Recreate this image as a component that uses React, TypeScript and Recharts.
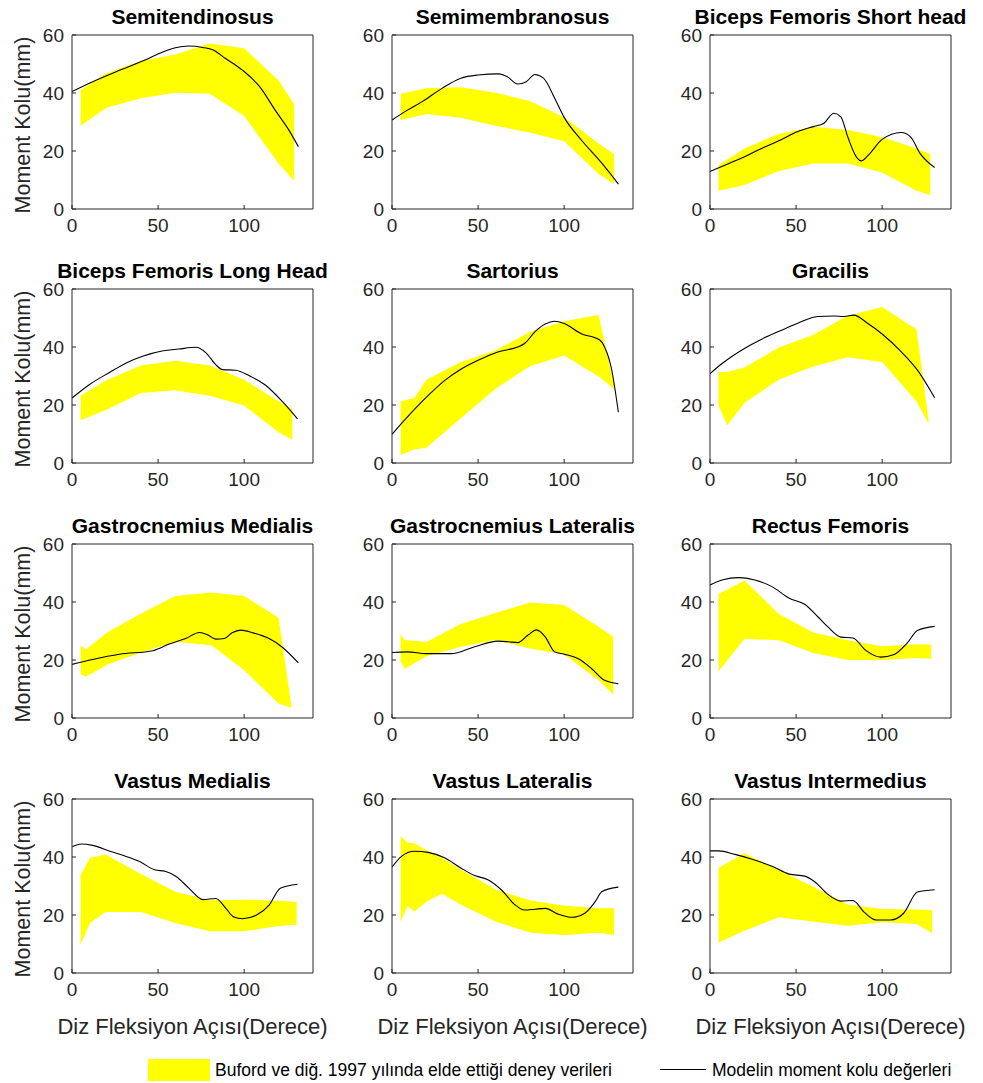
import { ComposedChart, Area, Line, XAxis, YAxis } from "recharts";

const FONT = '"Liberation Sans", Arial, Helvetica, sans-serif';
const AXIS = "#262626";
const YELLOW = "#ffff00";

// [angle, low, high] – Buford et al. 1997 band
const semitendinosusBand = [
  [5, 28.7, 41.0], [20, 34.9, 46.8], [40, 38.2, 51.0], [60, 40.1, 53.3],
  [80, 39.7, 57.1], [100, 32.1, 55.4], [120, 15.7, 44.3], [129, 9.7, 36.2],
];
// [angle, moment arm] – model
const semitendinosusModel = [
  [0, 40.5], [12, 43.9], [28, 47.9], [41, 51.0], [51, 53.7], [60, 55.6], [68, 56.2],
  [76, 55.7], [82, 54.8], [89, 52.0], [99, 47.9], [109, 42.2], [118, 34.1], [126, 27.2], [131.5, 21.5],
];

const semimembranosusBand = [
  [5, 30.7, 39.7], [20, 32.8, 41.6], [40, 31.5, 42.0], [60, 28.7, 40.1],
  [80, 26.4, 37.2], [100, 23.4, 31.6], [120, 12.1, 22.6], [129, 8.6, 19.0],
];
const semimembranosusModel = [
  [0, 30.7], [9, 34.1], [18, 37.2], [29, 41.6], [40, 45.1], [50, 46.2], [62, 46.6], [67, 45.6],
  [73, 43.1], [78, 43.9], [83, 46.4], [88, 45.1], [95, 37.6], [100, 31.6], [110, 23.8], [122, 15.7], [131.5, 8.6],
];

const bicepsShortBand = [
  [5, 6.3, 15.2], [20, 8.3, 20.9], [40, 13.1, 25.9], [60, 15.7, 28.4],
  [80, 15.7, 27.2], [100, 12.6, 24.7], [120, 6.3, 20.9], [128, 4.8, 19.0],
];
const bicepsShortModel = [
  [0, 12.9], [11, 15.7], [20, 18.0], [30, 20.9], [41, 23.8], [51, 26.7], [60, 28.4], [66, 29.5],
  [72, 33.0], [76, 31.8], [80, 24.9], [85, 18.0], [88, 16.6], [92, 18.6], [100, 24.0], [111, 26.4],
  [116.5, 24.9], [122, 19.2], [130.5, 14.3],
];

const bicepsLongBand = [
  [5, 14.7, 23.2], [20, 18.4, 28.5], [40, 24.1, 33.6], [60, 25.1, 35.3],
  [80, 23.2, 33.6], [100, 19.8, 28.7], [120, 10.6, 21.3], [128, 8.0, 18.6],
];
const bicepsLongModel = [
  [0, 22.4], [10, 27.0], [22, 31.3], [31.5, 34.5], [41, 36.8], [53, 38.7], [62, 39.3], [72, 39.9],
  [78, 37.9], [83.5, 33.9], [87.5, 32.2], [95, 32.0], [103, 30.1], [112.5, 26.8], [122, 21.3], [131, 15.2],
];

const sartoriusBand = [
  [5, 2.8, 21.2], [13, 4.7, 22.4], [20, 5.3, 28.7], [40, 15.4, 34.8], [60, 25.5, 38.8],
  [80, 33.4, 45.2], [100, 37.1, 48.9], [120, 29.8, 51.0], [129, 25.5, 27.0],
];
const sartoriusModel = [
  [0, 9.9], [7, 14.6], [20, 22.7], [30.5, 28.4], [40, 32.3], [50, 35.4], [61.5, 38.3], [73, 40.0],
  [77, 41.2], [83, 45.2], [89, 47.9], [94.5, 48.9], [100, 48.1], [110, 44.6], [120.5, 42.5],
  [123.5, 40.0], [127.5, 32.5], [131.5, 17.5],
];

const gracilisBand = [
  [5, 19.7, 31.4], [10, 13.0, 31.4], [20, 20.7, 32.9], [40, 28.8, 39.8], [60, 33.3, 44.2],
  [80, 36.5, 50.8], [100, 34.8, 53.8], [120, 21.2, 46.0], [127, 13.5, 14.5],
];
const gracilisModel = [
  [0, 30.8], [7, 34.3], [20, 39.5], [30, 42.7], [40.5, 45.5], [51, 48.2], [62.5, 50.5], [72, 50.7],
  [78, 50.5], [83.5, 51.0], [91.5, 48.2], [100, 44.5], [111, 38.4], [120.5, 32.0], [130.5, 22.5],
];

const gastroMedBand = [
  [5, 15.1, 25.1], [8, 14.2, 23.6], [21, 18.5, 29.7], [41, 22.8, 36.3], [60, 26.3, 42.1],
  [81, 25.1, 43.3], [100, 16.5, 42.1], [120, 5.0, 34.6], [127.5, 3.5, 4.0],
];
const gastroMedModel = [
  [0, 18.5], [12, 20.2], [27.5, 22.0], [47, 23.2], [56.5, 25.5], [66, 27.4], [74, 29.5], [79, 28.6],
  [83.5, 27.2], [88.5, 27.4], [93, 29.4], [98, 30.3], [105, 29.4], [114.5, 27.4], [122, 24.5], [131.5, 19.0],
];

const gastroLatBand = [
  [5, 19.4, 29.0], [7.5, 17.0, 26.9], [20, 21.3, 26.2], [40, 24.6, 32.4], [60, 26.9, 36.2],
  [80, 24.0, 39.8], [100, 22.0, 39.0], [120, 13.0, 31.5], [128.5, 8.1, 28.0],
];
const gastroLatModel = [
  [0, 22.6], [9, 22.8], [20, 22.2], [34.5, 22.2], [48, 24.6], [61.5, 26.5], [67.5, 26.3], [73, 26.0],
  [79, 28.6], [84, 30.4], [89, 28.0], [94.5, 22.8], [100, 22.0], [108, 20.5], [116, 17.0], [123.5, 13.0], [131.5, 11.8],
];

const rectusBand = [
  [5, 16.1, 42.8], [20, 27.3, 47.4], [40, 26.8, 35.9], [60, 22.4, 29.5],
  [80, 20.0, 26.8], [100, 20.0, 24.7], [120, 20.7, 25.4], [128.5, 20.4, 25.3],
];
const rectusModel = [
  [0, 45.9], [7, 47.6], [16.5, 48.4], [26, 47.6], [36, 45.3], [46, 41.3], [55, 39.2], [62.5, 35.0],
  [68.5, 31.4], [76, 27.9], [83, 27.6], [90.5, 23.3], [99, 21.0], [107, 21.9], [114.5, 25.8], [120.5, 30.2], [130.5, 31.6],
];

const vastusMedBand = [
  [5, 9.8, 33.8], [10.5, 17.2, 39.7], [19.5, 21.0, 40.9], [40, 21.0, 34.1], [60, 17.2, 28.0],
  [80, 14.4, 25.1], [100, 14.4, 25.3], [120, 16.2, 24.9], [130.5, 16.6, 24.5],
];
const vastusMedModel = [
  [0, 43.5], [5.5, 44.5], [12, 44.0], [22, 42.0], [31.5, 40.2], [39, 38.5], [48, 35.6], [54.5, 35.0],
  [60.5, 33.3], [68, 29.2], [76, 25.3], [83.5, 25.7], [89.5, 22.2], [94, 19.3], [99, 18.7], [107, 19.9],
  [114.5, 23.4], [121, 29.2], [131, 30.6],
];

const vastusLatBand = [
  [5, 17.7, 47.2], [9, 23.1, 44.9], [13, 21.2, 44.7], [20, 24.6, 42.3], [29, 27.3, 39.7], [40, 23.5, 35.6],
  [60.5, 17.7, 28.7], [80.5, 13.9, 25.0], [100.5, 13.1, 23.2], [120.5, 13.9, 22.3], [129, 13.1, 22.3],
];
const vastusLatModel = [
  [0, 36.5], [5.5, 40.2], [13, 42.0], [21, 41.6], [30.5, 39.7], [40, 36.2], [48, 33.6], [56, 32.1],
  [63.5, 28.7], [71.5, 23.5], [77, 21.7], [83, 22.0], [89, 22.3], [96.5, 20.3], [104.5, 19.2], [112, 20.6],
  [118, 24.6], [122, 28.1], [131.5, 29.6],
];

const vastusIntBand = [
  [5, 10.5, 36.3], [20, 14.6, 41.3], [40, 19.2, 35.5], [60, 17.8, 29.7],
  [80, 16.3, 23.6], [100, 17.5, 22.1], [120, 16.9, 21.9], [129, 13.7, 21.6],
];
const vastusIntModel = [
  [0, 42.1], [5, 42.1], [14.5, 40.9], [24, 39.3], [36, 36.8], [46, 34.1], [55, 33.4], [61, 31.4],
  [68.5, 27.1], [76, 24.8], [83, 25.0], [89.5, 21.0], [96.5, 18.3], [105, 18.3], [112.5, 20.6], [120.5, 27.9], [130.5, 28.7],
];

const xTicks = [0, 50, 100];
const yTicks = [0, 20, 40, 60];

const panels = [
  { title: "Semitendinosus", band: semitendinosusBand, model: semitendinosusModel },
  { title: "Semimembranosus", band: semimembranosusBand, model: semimembranosusModel },
  { title: "Biceps Femoris Short head", band: bicepsShortBand, model: bicepsShortModel },
  { title: "Biceps Femoris Long Head", band: bicepsLongBand, model: bicepsLongModel },
  { title: "Sartorius", band: sartoriusBand, model: sartoriusModel },
  { title: "Gracilis", band: gracilisBand, model: gracilisModel },
  { title: "Gastrocnemius Medialis", band: gastroMedBand, model: gastroMedModel },
  { title: "Gastrocnemius Lateralis", band: gastroLatBand, model: gastroLatModel },
  { title: "Rectus Femoris", band: rectusBand, model: rectusModel },
  { title: "Vastus Medialis", band: vastusMedBand, model: vastusMedModel },
  { title: "Vastus Lateralis", band: vastusLatBand, model: vastusLatModel },
  { title: "Vastus Intermedius", band: vastusIntBand, model: vastusIntModel },
];

// layout of the axes boxes
const COL_LEFT = [72, 392, 710];
const ROW_TOP = [35, 289, 544, 799];
const PW = 241;
const PH = 174;
const AXW = 50;
const TOPM = 30;
const XAH = 40;

const tickStyle = { fill: AXIS, fontSize: 19, fontFamily: FONT };

function Panel({ panel, left, top }: { panel: any; left: number; top: number }) {
  const bandData = panel.band.map(([x, lo, hi]: number[]) => ({ x, range: [lo, hi] }));
  const modelData = panel.model.map(([x, y]: number[]) => ({ x, y }));
  return (
    <div style={{ position: "absolute", left: left - AXW, top: top - TOPM }}>
      <ComposedChart
        width={AXW + PW + 6}
        height={TOPM + PH + XAH}
        margin={{ top: TOPM - 1, right: 5, bottom: 0, left: 0 }}
      >
        <XAxis
          dataKey="x"
          type="number"
          domain={[0, 140]}
          ticks={xTicks}
          allowDataOverflow
          height={XAH}
          stroke={AXIS}
          tickSize={-4}
          tickMargin={14}
          tick={tickStyle}
        />
        <XAxis
          xAxisId="top"
          orientation="top"
          type="number"
          domain={[0, 140]}
          ticks={xTicks}
          height={1}
          stroke={AXIS}
          tickSize={-4}
          tickFormatter={() => ""}
        />
        <YAxis
          type="number"
          domain={[0, 60]}
          ticks={yTicks}
          width={AXW}
          stroke={AXIS}
          tickSize={-4}
          tickMargin={12}
          tick={tickStyle}
        />
        <YAxis
          yAxisId="right"
          orientation="right"
          type="number"
          domain={[0, 60]}
          ticks={yTicks}
          width={1}
          stroke={AXIS}
          tickSize={-4}
          tickFormatter={() => ""}
        />
        <Area
          data={bandData}
          dataKey="range"
          type="linear"
          stroke="none"
          fill={YELLOW}
          fillOpacity={1}
          isAnimationActive={false}
        />
        <Line
          data={modelData}
          dataKey="y"
          type="monotone"
          stroke="#000"
          strokeWidth={1.1}
          dot={false}
          isAnimationActive={false}
        />
      </ComposedChart>
      <div
        style={{
          position: "absolute",
          left: AXW + PW / 2,
          top: TOPM - 29,
          transform: "translateX(-50%)",
          whiteSpace: "nowrap",
          fontFamily: FONT,
          fontWeight: "bold",
          fontSize: 21,
          lineHeight: "22px",
          color: "#000",
        }}
      >
        {panel.title}
      </div>
    </div>
  );
}

export default function App() {
  return (
    <div
      style={{
        position: "absolute",
        left: 0,
        top: 0,
        width: 983,
        height: 1083,
        background: "#fff",
        overflow: "hidden",
      }}
    >
      {panels.map((p, i) => (
        <Panel key={p.title} panel={p} left={COL_LEFT[i % 3]} top={ROW_TOP[Math.floor(i / 3)]} />
      ))}
      {ROW_TOP.map((t) => (
        <div
          key={t}
          style={{
            position: "absolute",
            left: 23,
            top: t + PH / 2 + 3,
            transform: "translate(-50%, -50%) rotate(-90deg)",
            whiteSpace: "nowrap",
            fontFamily: FONT,
            fontSize: 21.5,
            color: AXIS,
          }}
        >
          Moment Kolu(mm)
        </div>
      ))}
      {COL_LEFT.map((l) => (
        <div
          key={l}
          style={{
            position: "absolute",
            left: l + PW / 2,
            top: 1027,
            transform: "translate(-50%, -50%)",
            whiteSpace: "nowrap",
            fontFamily: FONT,
            fontSize: 22,
            color: AXIS,
          }}
        >
          Diz Fleksiyon Açısı(Derece)
        </div>
      ))}
      {/* legend */}
      <div style={{ position: "absolute", left: 148, top: 1059, width: 62, height: 22, background: YELLOW }} />
      <div
        style={{
          position: "absolute",
          left: 215,
          top: 1070,
          transform: "translateY(-50%)",
          whiteSpace: "nowrap",
          fontFamily: FONT,
          fontSize: 17.5,
          color: "#000",
        }}
      >
        Buford ve diğ. 1997 yılında elde ettiği deney verileri
      </div>
      <div style={{ position: "absolute", left: 660, top: 1069, width: 46, height: 1, background: "#000" }} />
      <div
        style={{
          position: "absolute",
          left: 712,
          top: 1070,
          transform: "translateY(-50%)",
          whiteSpace: "nowrap",
          fontFamily: FONT,
          fontSize: 17.5,
          color: "#000",
        }}
      >
        Modelin moment kolu değerleri
      </div>
    </div>
  );
}
